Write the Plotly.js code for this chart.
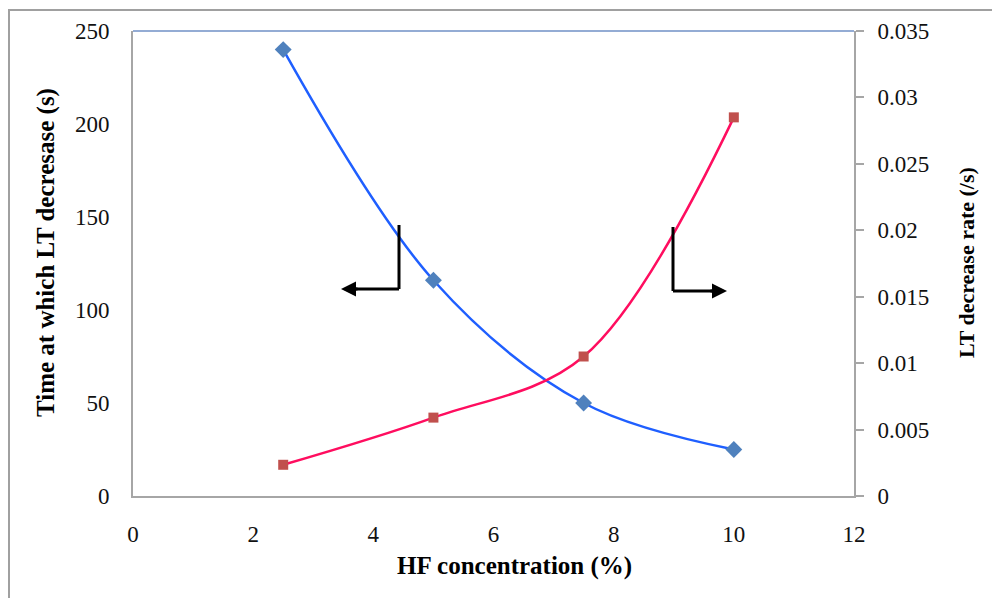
<!DOCTYPE html>
<html>
<head>
<meta charset="utf-8">
<script src="https://cdn.plot.ly/plotly-3.0.1.min.js"></script>
<style>html,body{margin:0;padding:0;background:#fff}#chart{width:992px;height:598px}</style>
</head>
<body>
<div id="chart"></div>
<script>
// Data
const hfConcentration = [2.5, 5, 7.5, 10];
const timeAtDecrease = [240, 116, 50, 25];
const decreaseRate = [0.00235, 0.0059, 0.0105, 0.0285];
const xTicks = [0, 2, 4, 6, 8, 10, 12];
const y1Ticks = [0, 50, 100, 150, 200, 250];
const y2Ticks = [0, 0.005, 0.01, 0.015, 0.02, 0.025, 0.03, 0.035];
const y2TickText = ['0', '0.005', '0.01', '0.015', '0.02', '0.025', '0.03', '0.035'];
const xTitle = 'HF concentration (%)';
const y1Title = 'Time at which LT decresase (s)';
const y2Title = 'LT decrease rate (/s)';

const font = 'Liberation Serif, Times New Roman, serif';

const traces = [
  {
    x: hfConcentration, y: timeAtDecrease, type: 'scatter', mode: 'lines+markers',
    line: {color: '#1f5fff', width: 2.5, shape: 'spline', smoothing: 1},
    marker: {symbol: 'diamond', size: 13, color: '#4f81bd'},
    yaxis: 'y', showlegend: false, cliponaxis: false
  },
  {
    x: hfConcentration, y: decreaseRate, type: 'scatter', mode: 'lines+markers',
    line: {color: '#ff0d5f', width: 2.5, shape: 'spline', smoothing: 1},
    marker: {symbol: 'square', size: 10, color: '#c0504d'},
    yaxis: 'y2', showlegend: false, cliponaxis: false
  }
];

const plotW = 992 - 133 - 138, plotH = 598 - 31 - 102;
const px2x = p => (p - 133) / plotW;
const px2y = p => (598 - 102 - p) / plotH;

const arrowStyle = {color: '#000', width: 3};

const layout = {
  width: 992, height: 598,
  margin: {l: 133, r: 138, t: 31, b: 102},
  paper_bgcolor: '#fff', plot_bgcolor: '#fff',
  font: {family: font, size: 23, color: '#111'},
  xaxis: {
    range: [0, 12], tickvals: xTicks, ticktext: xTicks.map(String),
    showgrid: false, zeroline: false, showline: true, linecolor: '#a6a6a6', linewidth: 2,
    ticks: '', ticklabelstandoff: 16
  },
  yaxis: {
    range: [0, 250], tickvals: y1Ticks, ticktext: y1Ticks.map(String),
    showgrid: false, zeroline: false, showline: true, linecolor: '#a6a6a6', linewidth: 2,
    ticks: '', ticklabelstandoff: 17
  },
  yaxis2: {
    range: [0, 0.035], tickvals: y2Ticks, ticktext: y2TickText,
    overlaying: 'y', side: 'right',
    showgrid: false, zeroline: false, showline: true, linecolor: '#a6a6a6', linewidth: 2,
    ticks: 'outside', ticklen: 8, tickwidth: 2, tickcolor: '#a6a6a6', ticklabelstandoff: 9
  },
  shapes: [
    // outer frame
    {type: 'rect', xref: 'paper', yref: 'paper', x0: px2x(9), x1: px2x(1010), y0: px2y(620), y1: px2y(10),
     line: {color: '#a0a0a0', width: 2}, layer: 'below'},
    // top border of plot area
    {type: 'line', xref: 'paper', yref: 'paper', x0: 0, x1: 1, y0: 1, y1: 1, line: {color: '#7190c6', width: 1.5}},
    // left bracket arrow
    {type: 'line', xref: 'paper', yref: 'paper', x0: px2x(399), x1: px2x(399), y0: px2y(225), y1: px2y(289), line: arrowStyle},
    {type: 'line', xref: 'paper', yref: 'paper', x0: px2x(399), x1: px2x(352), y0: px2y(289), y1: px2y(289), line: arrowStyle},
    // right bracket arrow
    {type: 'line', xref: 'paper', yref: 'paper', x0: px2x(673), x1: px2x(673), y0: px2y(227), y1: px2y(291), line: arrowStyle},
    {type: 'line', xref: 'paper', yref: 'paper', x0: px2x(673), x1: px2x(716), y0: px2y(291), y1: px2y(291), line: arrowStyle}
  ],
  annotations: [
    {xref: 'paper', yref: 'paper', x: px2x(341), y: px2y(289), ax: 18, ay: 0, text: '', showarrow: true,
     arrowhead: 2, arrowsize: 1, arrowwidth: 3, arrowcolor: '#000'},
    {xref: 'paper', yref: 'paper', x: px2x(727), y: px2y(291), ax: -18, ay: 0, text: '', showarrow: true,
     arrowhead: 2, arrowsize: 1, arrowwidth: 3, arrowcolor: '#000'},
    // axis titles
    {xref: 'paper', yref: 'paper', x: px2x(514), y: px2y(566), text: '<b>' + xTitle + '</b>', showarrow: false,
     xanchor: 'center', yanchor: 'middle', font: {family: font, size: 25, color: '#000'}},
    {xref: 'paper', yref: 'paper', x: px2x(46), y: px2y(253), text: '<b>' + y1Title + '</b>', showarrow: false,
     textangle: -90, xanchor: 'center', yanchor: 'middle', font: {family: font, size: 25, color: '#000'}},
    {xref: 'paper', yref: 'paper', x: px2x(966), y: px2y(263), text: '<b>' + y2Title + '</b>', showarrow: false,
     textangle: -90, xanchor: 'center', yanchor: 'middle', font: {family: font, size: 22, color: '#000'}}
  ]
};

Plotly.newPlot('chart', traces, layout, {displayModeBar: false, staticPlot: true});
</script>
</body>
</html>
